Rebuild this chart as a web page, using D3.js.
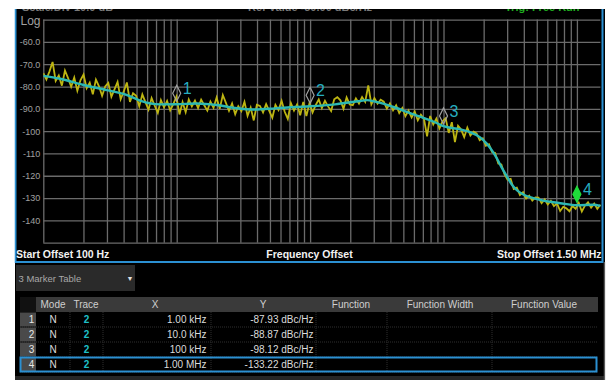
<!DOCTYPE html>
<html><head><meta charset="utf-8">
<script src="https://cdn.jsdelivr.net/npm/d3@7"></script>
<style>
html,body{margin:0;padding:0;background:#fff;}
svg{display:block;font-family:"Liberation Sans",Arial,sans-serif;}
</style></head><body>
<svg id="c" width="609" height="380"></svg>
<script>
// Sweep span and amplitude scale
const startFreq = 100, stopFreq = 1.5e6;
const refLevel = -50, bottomLevel = -150;
const yGridValues = [-50,-60,-70,-80,-90,-100,-110,-120,-130,-140,-150];
const yTickValues = [-60,-70,-80,-90,-100,-110,-120,-130,-140];
const yTickLabels = ["-60.0","-70.0","-80.0","-90.0","-100","-110","-120","-130","-140"];

// Trace 1 (raw sweep, yellow), dBc/Hz, one value per log-spaced bin
const rawTrace = [
 -74.0, -76.8, -73.2, -69.0, -77.5, -75.1, -79.6, -72.8, -76.2, -80.1,
 -76.0, -81.9, -77.2, -74.6, -80.8, -78.3, -83.5, -76.9, -79.9, -84.2,
 -80.0, -78.4, -84.6, -81.3, -77.9, -85.7, -82.2, -78.2, -86.9, -83.0,
 -84.1, -88.9, -83.5, -87.0, -90.4, -85.2, -88.6, -91.8, -86.1, -89.3,
 -86.4, -90.7, -87.9, -84.6, -92.5, -87.0, -91.5, -85.8, -88.9, -86.3,
 -89.6, -85.9, -88.4, -90.8, -86.7, -89.5, -84.9, -90.0, -83.8, -87.3,
 -90.9, -87.6, -92.4, -88.8, -91.0, -86.9, -93.1, -89.4, -95.2, -88.2,
 -88.7, -91.6, -87.9, -90.9, -94.0, -88.2, -90.6, -86.4, -91.3, -94.5,
 -87.4, -90.8, -88.0, -92.9, -86.9, -93.2, -87.5, -91.6, -88.3, -85.8,
 -89.6, -86.4, -88.9, -91.0, -85.7, -84.8, -86.2, -90.0, -84.9, -88.0,
 -88.4, -85.3, -87.6, -84.7, -86.9, -79.5, -88.0, -85.2, -87.7, -85.9,
 -86.8, -89.9, -87.6, -90.7, -88.4, -91.9, -89.6, -93.3, -90.8, -93.9,
 -91.2, -95.1, -92.6, -94.5, -102.3, -93.2, -97.0, -94.4, -98.8, -95.6,
 -94.2, -100.8, -96.0, -104.9, -97.6, -99.3, -102.7, -98.4, -101.9, -100.2,
 -101.0, -104.1, -103.2, -106.6, -105.9, -109.4, -109.8, -114.5, -114.9, -119.3,
 -121.8, -121.4, -125.9, -125.3, -128.6, -127.4, -130.2, -128.9, -131.1, -129.7,
 -129.8, -132.3, -130.6, -132.9, -131.2, -133.6, -132.4, -135.8, -133.9, -134.6,
 -135.9, -133.6, -134.8, -132.1, -136.0, -133.4, -131.9, -134.3, -132.5, -134.8, -133.0
];

// Trace 2 (smoothed, cyan): offset frequency (Hz) and level (dBc/Hz)
const smoothFreqs = [100, 133, 200, 300, 424, 531, 750, 1000, 1420, 2000, 2740, 3860, 5460, 7710, 10000,
  15400, 22900, 26700, 30700, 43300, 58100, 66700, 86400, 100000, 133000, 158000, 188000, 210000,
  230000, 250000, 270000, 300000, 330000, 360000, 400000, 470000, 530000, 750000, 1000000, 1320000, 1500000];
const smoothLevels = [-75.2, -76.5, -79.3, -81.6, -83.8, -86.3, -88.0, -87.93, -87.6, -88.3, -89.6, -90.3, -89.8, -89.2, -88.87,
  -88.0, -86.6, -86.1, -86.8, -89.4, -92.3, -93.5, -96.0, -97.8, -99.2, -100.4, -102.8, -105.5,
  -108.5, -112.0, -115.8, -120.5, -124.5, -126.8, -128.5, -130.0, -130.8, -132.3, -133.22, -133.0, -133.5];

// Markers (all on trace 2)
const markerIds = ["1","2","3","4"];
const markerFreqs = [1e3, 1e4, 1e5, 1e6];
const markerLevels = [-87.93, -88.87, -98.12, -133.22];
const markerXText = ["1.00 kHz","10.0 kHz","100 kHz","1.00 MHz"];
const markerYText = ["-87.93 dBc/Hz","-88.87 dBc/Hz","-98.12 dBc/Hz","-133.22 dBc/Hz"];
const markerMode = ["N","N","N","N"];
const markerTrace = ["2","2","2","2"];
const tableHeaders = ["Mode","Trace","X","Y","Function","Function Width","Function Value"];

const svg = d3.select("#c");
const plot = {l: 43.3, r: 600.4, t: 19.6, b: 242.7};
const x = d3.scaleLog().domain([startFreq, stopFreq]).range([plot.l, plot.r]);
const y = d3.scaleLinear().domain([refLevel, bottomLevel]).range([plot.t, plot.b]);

// Instrument screen background
svg.append("rect").attr("x",15).attr("y",0).attr("width",590).attr("height",380).attr("fill","#000");

// Clipped status line along the top edge
const status = svg.append("g").attr("font-size",11).attr("font-weight","bold");
status.append("text").attr("x",22).attr("y",11.2).attr("fill","#7a7a7a").text("Scale/Div 10.0 dB");
status.append("text").attr("x",248).attr("y",11.2).attr("fill","#7a7a7a").text("Ref Value -50.00 dBc/Hz");
status.append("text").attr("x",505).attr("y",11.2).attr("fill","#1fae1f").text("Trig: Free Run");

// Grid: vertical lines from the log axis, horizontal from the level axis
const gridColor = "#6b6b6b";
const gx = svg.append("g").attr("transform",`translate(0,${plot.b})`)
  .call(d3.axisBottom(x).tickValues(x.ticks()).tickSize(-(plot.b-plot.t)).tickFormat(""));
gx.select(".domain").remove();
gx.selectAll(".tick line").attr("stroke",gridColor).attr("stroke-width",1.3);

const gy = svg.append("g").attr("transform",`translate(${plot.l},0)`)
  .call(d3.axisLeft(y).tickValues(yGridValues).tickSize(-(plot.r-plot.l)).tickFormat(""));
gy.select(".domain").remove();
gy.selectAll(".tick line").attr("stroke",gridColor).attr("stroke-width",1.3);

// Level labels
const ly = svg.append("g").attr("transform",`translate(${plot.l},0)`)
  .call(d3.axisLeft(y).tickValues(yTickValues).tickSize(0).tickPadding(3)
    .tickFormat((d,i) => yTickLabels[i]));
ly.select(".domain").remove();
ly.selectAll("text").attr("fill","#a0a0a0").attr("font-size",9).attr("font-family","Liberation Sans, Arial, sans-serif");
svg.append("text").attr("x",40.5).attr("y",24.5).attr("text-anchor","end")
  .attr("fill","#a0a0a0").attr("font-size",12).text("Log");

// Traces
svg.append("clipPath").attr("id","pc").append("rect")
  .attr("x",plot.l).attr("y",plot.t).attr("width",plot.r-plot.l+1).attr("height",plot.b-plot.t);
const n = rawTrace.length;
const binFreq = i => startFreq * Math.pow(stopFreq/startFreq, i/(n-1));
const traces = svg.append("g").attr("clip-path","url(#pc)");
traces.append("path")
  .attr("d", d3.line().x((d,i) => x(binFreq(i))).y(d => y(d))(rawTrace))
  .attr("fill","none").attr("stroke","#bdb512").attr("stroke-width",1.8).attr("stroke-linejoin","miter");
traces.append("path")
  .attr("d", d3.line().curve(d3.curveMonotoneX).x((d,i) => x(smoothFreqs[i])).y(d => y(d))(smoothLevels))
  .attr("fill","none").attr("stroke","#2cb8b4").attr("stroke-width",2.4);

// Marker symbols and numbers
markerIds.forEach((id,i) => {
  const mx = x(markerFreqs[i]), my = y(markerLevels[i]);
  const active = i === markerIds.length-1;
  svg.append("path")
    .attr("d",`M${mx},${my-3}L${mx-4},${my-11}L${mx},${my-19}L${mx+4},${my-11}Z`)
    .attr("fill", active ? "#1fdc3a" : "none")
    .attr("stroke", active ? "#1fdc3a" : "#a0a0a0").attr("stroke-width",1.2);
  svg.append("text").attr("x",mx+6).attr("y",my-10).attr("fill","#26aec0")
    .attr("font-size",16).text(id);
});

// Axis annotation bar
const bar = svg.append("g").attr("fill","#f2f2f2").attr("font-weight","bold").attr("font-size",10.5);
bar.append("text").attr("x",16).attr("y",257.5).text("Start Offset 100 Hz");
bar.append("text").attr("x",309.5).attr("y",257.5).attr("text-anchor","middle").text("Frequency Offset");
bar.append("text").attr("x",601.5).attr("y",257.5).attr("text-anchor","end").text("Stop Offset 1.50 MHz");

// Graph window frame
svg.append("path").attr("d","M15.5,9 V262 H602.5 V9").attr("fill","none")
  .attr("stroke","#2b90d2").attr("stroke-width",2);

// Marker table panel
svg.append("rect").attr("x",16).attr("y",265).attr("width",119).attr("height",26).attr("fill","#2a2a2a");
svg.append("text").attr("x",18.5).attr("y",281.5).attr("fill","#a8a8a8").attr("font-size",9.5).text("3 Marker Table");
svg.append("text").attr("x",130).attr("y",281).attr("fill","#e0e0e0").attr("font-size",7).attr("text-anchor","middle").text("▼");

const tbl = {l: 20, r: 598, hy: 297, hh: 15, rh: 15};
const colSep = [36, 70, 103, 211, 316, 387, 492];
const headerX = [53, 86, 155, 263, 351, 440, 544];
svg.append("rect").attr("x",tbl.l).attr("y",tbl.hy).attr("width",tbl.r-tbl.l).attr("height",tbl.hh).attr("fill","#3a3a3a");
svg.append("rect").attr("x",tbl.l).attr("y",tbl.hy).attr("width",16).attr("height",tbl.hh).attr("fill","#111");
tableHeaders.forEach((h,i) => {
  svg.append("text").attr("x",headerX[i]).attr("y",tbl.hy+11).attr("text-anchor","middle")
    .attr("fill","#cfcfcf").attr("font-size",10).text(h);
});
const rowTop = i => tbl.hy + tbl.hh + i*tbl.rh;
// Row separators and column rules
markerIds.forEach((id,i) => {
  svg.append("line").attr("x1",tbl.l).attr("x2",tbl.r).attr("y1",rowTop(i+1)).attr("y2",rowTop(i+1))
    .attr("stroke","#2e2e2e").attr("stroke-dasharray","1,1");
});
colSep.slice(1).forEach(cx => {
  svg.append("line").attr("x1",cx).attr("x2",cx).attr("y1",rowTop(0)).attr("y2",rowTop(markerIds.length))
    .attr("stroke","#2e2e2e").attr("stroke-dasharray","1,1");
});
markerIds.forEach((id,i) => {
  const ty = rowTop(i) + 11;
  svg.append("rect").attr("x",tbl.l).attr("y",rowTop(i)+0.5).attr("width",16).attr("height",tbl.rh-1).attr("fill","#4a4a4a");
  svg.append("text").attr("x",31.5).attr("y",ty).attr("text-anchor","middle").attr("fill","#e8e8e8").attr("font-size",10).text(id);
  svg.append("text").attr("x",53).attr("y",ty).attr("text-anchor","middle").attr("fill","#dcdcdc").attr("font-size",10).text(markerMode[i]);
  svg.append("text").attr("x",86.5).attr("y",ty).attr("text-anchor","middle").attr("fill","#1fc0c8").attr("font-weight","bold").attr("font-size",10).text(markerTrace[i]);
  svg.append("text").attr("x",206.5).attr("y",ty).attr("text-anchor","end").attr("fill","#dcdcdc").attr("font-size",10).text(markerXText[i]);
  svg.append("text").attr("x",313.5).attr("y",ty).attr("text-anchor","end").attr("fill","#dcdcdc").attr("font-size",10).text(markerYText[i]);
});
// Selected marker row
svg.append("rect").attr("x",tbl.l+0.5).attr("y",rowTop(3)+0.5).attr("width",tbl.r-tbl.l-2).attr("height",tbl.rh-1)
  .attr("fill","none").attr("stroke","#2b90d2").attr("stroke-width",2);

// Lower screen edge
svg.append("rect").attr("x",15).attr("y",376).attr("width",590).attr("height",4).attr("fill","#262626");
svg.append("line").attr("x1",604.5).attr("x2",604.5).attr("y1",262).attr("y2",380).attr("stroke","#5a5a5a").attr("stroke-width",1.5);

// Page margins
svg.append("rect").attr("x",0).attr("y",0).attr("width",609).attr("height",9).attr("fill","#fff");
svg.append("rect").attr("x",0).attr("y",0).attr("width",14.5).attr("height",380).attr("fill","#fff");
svg.append("rect").attr("x",605.5).attr("y",0).attr("width",4).attr("height",380).attr("fill","#fff");
</script>
</body></html>
